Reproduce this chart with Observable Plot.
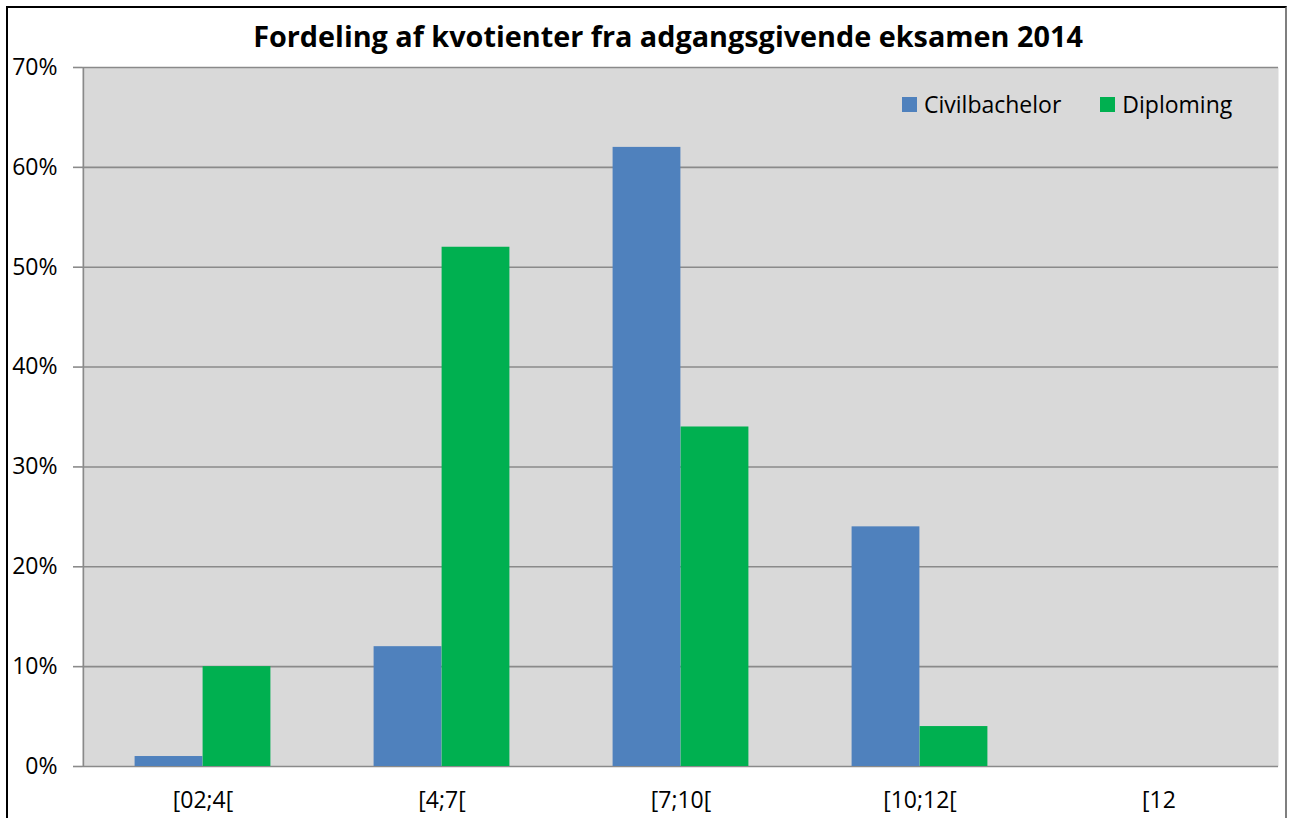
<!DOCTYPE html>
<html>
<head>
<meta charset="utf-8">
<script src="https://cdn.jsdelivr.net/npm/d3@7"></script>
<script src="https://cdn.jsdelivr.net/npm/@observablehq/plot@0.6"></script>
<style>
  html, body { margin: 0; padding: 0; background: #fff; }
  #wrap { position: relative; width: 1291px; height: 818px; overflow: hidden; font-family: "Open Sans", sans-serif; }
  #border { position: absolute; left: 6px; top: 6px; width: 1281px; height: 830px; border-left: 2px solid #000; border-top: 2px solid #000; border-right: 2px solid #7f7f7f; box-sizing: border-box; }
  #title { position: absolute; left: 0; width: 1336px; top: 16px; text-align: center; font-weight: bold; font-size: 28.8px; color: #000; }
  #legend { position: absolute; left: 902px; top: 88px; font-size: 23px; color: #000; display: flex; align-items: center; }
  .sw { display: inline-block; width: 15px; height: 15px; margin-right: 7px; }
  .item { display: flex; align-items: center; margin-right: 39px; }
  svg { position: absolute; left: 0; top: 0; }
</style>
</head>
<body>
<div id="wrap">
  <div id="border"></div>
  <div id="chart"></div>
  <div id="title"></div>
  <div id="legend"></div>
</div>
<script>
const titleText = "Fordeling af kvotienter fra adgangsgivende eksamen 2014";
const categories = ["[02;4[", "[4;7[", "[7;10[", "[10;12[", "[12"];
const seriesNames = ["Civilbachelor", "Diploming"];
const seriesColors = ["#4F81BD", "#00B050"];
const civilbachelor = [1, 12, 62, 24, 0];
const diploming = [10, 52, 34, 4, 0];
const yTicks = [0, 10, 20, 30, 40, 50, 60, 70];

const data = categories.map((c, i) => ({cat: c, civ: civilbachelor[i], dip: diploming[i]}));

const W = 1291, H = 818;
const mL = 82, mR = 13, mT = 67, mB = 52;
const band = (W - mL - mR) / categories.length;
const barW = 68;

const chart = Plot.plot({
  width: W,
  height: H,
  marginLeft: mL,
  marginRight: mR,
  marginTop: mT,
  marginBottom: mB,
  style: { fontFamily: "Open Sans, sans-serif", fontSize: "23px", color: "#000", background: "transparent" },
  x: { domain: categories, padding: 0, label: null },
  y: { domain: [0, 70], label: null },
  marks: [
    Plot.frame({ fill: "#D9D9D9", stroke: null }),
    Plot.ruleY(yTicks, { stroke: "#8a8a8a", strokeWidth: 1.6 }),
    Plot.ruleX([0], { x: () => categories[0], y1: 0, y2: 70, stroke: "#8a8a8a", strokeWidth: 1.6, dx: -band / 2 }),
    Plot.barY(data, { x: "cat", y: "civ", fill: seriesColors[0], insetLeft: band / 2 - barW, insetRight: band / 2 }),
    Plot.barY(data, { x: "cat", y: "dip", fill: seriesColors[1], insetLeft: band / 2, insetRight: band / 2 - barW }),
    Plot.axisY(yTicks, { tickFormat: d => d + "%", tickSize: 9, tickPadding: 16, stroke: "#8a8a8a", strokeWidth: 1.6, fill: "#000", label: null }),
    Plot.axisX({ tickSize: 0, tickPadding: 25, fill: "#000", label: null })
  ]
});
document.getElementById("chart").appendChild(chart);
document.getElementById("title").textContent = titleText;

const legend = document.getElementById("legend");
seriesNames.forEach((n, i) => {
  const it = document.createElement("div");
  it.className = "item";
  const sw = document.createElement("span");
  sw.className = "sw";
  sw.style.background = seriesColors[i];
  const t = document.createElement("span");
  t.textContent = n;
  it.appendChild(sw); it.appendChild(t);
  legend.appendChild(it);
});
</script>
</body>
</html>
